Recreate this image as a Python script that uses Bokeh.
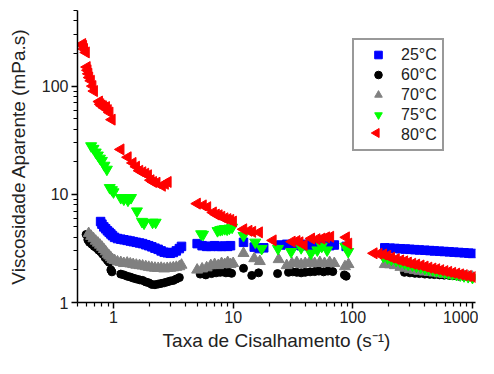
import math
from bokeh.plotting import figure
from bokeh.models import Range1d, FixedTicker, Legend, LegendItem, BasicTickFormatter
from bokeh.embed import file_html
from bokeh.resources import INLINE

# ---------------- data ----------------
labels = ["25°C", "60°C", "70°C", "75°C", "80°C"]

x25 = [0.78, 0.80, 0.83, 0.86, 0.89, 0.92, 0.95, 0.98, 1.02, 1.08, 1.15, 1.22, 1.30, 1.38, 1.46, 1.55,
       1.65, 1.75, 1.86, 1.97, 2.09, 2.22, 2.36, 2.50, 2.65, 2.81, 2.98, 3.16, 3.35, 3.55, 3.70,
       5.0, 5.5, 6.0, 6.5, 7.0, 7.5, 8.0, 8.5, 9.0, 9.5, 12.2, 15, 16.5, 18, 25, 28, 31, 34, 37, 40,
       44, 48, 53, 58, 64, 70, 88,
       185, 205, 225, 250, 275, 300, 330, 360, 400, 440, 480, 530, 580, 640, 700, 770, 850, 930, 1000]
y25 = [5.6, 5.3, 5.0, 4.8, 4.6, 4.45, 4.3, 4.15, 4.0, 3.9, 3.85, 3.8, 3.75, 3.7, 3.65, 3.6,
       3.55, 3.5, 3.42, 3.35, 3.27, 3.18, 3.1, 3.0, 2.92, 2.88, 2.85, 2.9, 3.0, 3.15, 3.3,
       3.5, 3.35, 3.3, 3.3, 3.35, 3.3, 3.3, 3.32, 3.3, 3.35, 3.6, 3.25, 3.15, 3.2, 3.4, 3.45, 3.4, 3.4, 3.35, 3.45,
       3.35, 3.4, 3.4, 3.35, 3.35, 3.4, 3.3,
       3.2, 3.18, 3.16, 3.14, 3.12, 3.1, 3.08, 3.06, 3.04, 3.02, 3.0, 2.98, 2.96, 2.94, 2.92, 2.9, 2.88, 2.86, 2.84]

x60 = [0.59, 0.61, 0.63, 0.66, 0.69, 0.72, 0.75, 0.78, 0.81, 0.85, 0.89, 0.92, 0.95, 0.97, 1.15, 1.22,
       1.30, 1.38, 1.46, 1.55, 1.65, 1.75, 1.86, 1.97, 2.09, 2.22, 2.36, 2.50, 2.65, 2.81, 2.98, 3.16, 3.35, 3.55,
       5.3, 5.9, 6.6, 7.2, 7.8, 8.2, 8.7, 9.2, 9.7, 12.2, 14.3, 16.3, 23.5, 29, 31.5, 34, 37, 40, 44, 48,
       52, 57, 62, 68, 85, 88,
       270, 300, 330, 360, 400, 440, 480, 530, 580, 640, 700, 770, 850, 930]
y60 = [4.25, 3.8, 3.6, 3.45, 3.3, 3.2, 3.05, 2.95, 2.8, 2.6, 2.45, 2.35, 2.0, 1.92, 1.83, 1.8,
       1.75, 1.72, 1.68, 1.65, 1.62, 1.6, 1.55, 1.52, 1.47, 1.46, 1.48, 1.5, 1.52, 1.55, 1.58, 1.6, 1.65, 1.7,
       1.83, 1.8, 1.85, 1.88, 1.9, 1.92, 1.88, 1.9, 1.86, 2.07, 1.78, 1.88, 1.85, 1.9, 1.92, 1.9, 1.88, 1.9, 1.92, 1.93,
       1.95, 1.92, 1.95, 1.93, 1.8, 1.75,
       1.9, 1.88, 1.86, 1.85, 1.83, 1.82, 1.81, 1.8, 1.79, 1.78, 1.77, 1.75, 1.74, 1.72]

x70 = [0.62, 0.65, 0.68, 0.71, 0.74, 0.77, 0.80, 0.83, 0.86, 0.89, 0.92, 0.95, 0.98, 1.02, 1.08, 1.15,
       1.22, 1.30, 1.38, 1.46, 1.55, 1.65, 1.75, 1.86, 1.97, 2.09, 2.22, 2.36, 2.50, 2.65, 2.81, 2.98,
       3.16, 3.35, 3.55, 3.70,
       5.0, 5.5, 6.0, 6.5, 7.0, 7.5, 8.0, 8.5, 9.0, 9.5, 10.0, 12.2, 15, 16.7, 24, 28, 31, 34, 37, 40,
       44, 48, 53, 58, 64, 70, 86, 92,
       185, 205, 225, 250, 275, 300, 330, 360, 400, 440, 480, 530, 580, 640, 700, 770, 850, 930, 1000]
y70 = [4.35, 4.1, 3.9, 3.7, 3.55, 3.4, 3.25, 3.1, 2.95, 2.8, 2.7, 2.6, 2.5, 2.45, 2.38, 2.35,
       2.3, 2.32, 2.28, 2.25, 2.22, 2.2, 2.18, 2.15, 2.12, 2.1, 2.08, 2.07, 2.08, 2.05, 2.07, 2.08,
       2.1, 2.12, 2.15, 2.22,
       2.0, 2.05, 2.1, 2.2, 2.25, 2.2, 2.3, 2.25, 2.35, 2.25, 2.3, 2.85, 2.55, 2.4, 2.5, 2.2, 2.3, 2.35, 2.25, 2.3,
       2.4, 2.3, 2.35, 2.3, 2.35, 2.3, 2.15, 2.25,
       2.25, 2.24, 2.2, 2.12, 2.08, 2.02, 1.98, 1.95, 1.92, 1.9, 1.88, 1.85, 1.83, 1.81, 1.79, 1.77, 1.75, 1.73, 1.72]

x75 = [0.65, 0.68, 0.71, 0.74, 0.77, 0.80, 0.84, 0.88, 0.93, 0.97, 1.0, 1.15, 1.22, 1.32, 1.40, 1.57,
       1.73, 1.80, 2.12, 2.25,
       5.4, 5.6, 7.4, 7.8, 8.1, 8.5, 8.9, 9.3, 9.8, 12.2, 15.3, 17.3, 23.7, 30.5, 37, 44.7, 50.5, 55, 61,
       86.5, 91.5,
       180, 195, 210, 230, 250, 270, 290, 315, 340, 370, 400, 430, 465, 500, 540, 585, 630, 680, 735,
       790, 850, 920, 1000]
y75 = [28, 26.5, 24.5, 23, 21.5, 20.5, 18.5, 17, 11.5, 11, 10.5, 9.3, 9.0, 8.8, 9.3, 7.0,
       5.6, 5.4, 5.5, 5.5,
       4.3, 4.25, 4.6, 4.7, 4.75, 4.8, 4.75, 4.85, 4.95, 4.15, 3.6, 3.15, 3.15, 2.95, 3.2, 2.85, 3.05, 3.3, 3.05,
       3.3, 2.95,
       2.65, 2.58, 2.5, 2.44, 2.37, 2.31, 2.26, 2.21, 2.16, 2.12, 2.07, 2.03, 2.0, 1.96, 1.93, 1.9, 1.87, 1.84, 1.81,
       1.79, 1.76, 1.73, 1.70]

x80 = [0.55, 0.56, 0.57, 0.59, 0.60, 0.61, 0.62, 0.63, 0.65, 0.67, 0.69, 0.76, 0.78, 0.80, 0.82, 0.84,
       0.87, 0.90, 0.93, 0.97, 1.15, 1.32, 1.45, 1.55, 1.65, 1.75, 1.85, 1.95, 2.05, 2.15, 2.3, 2.55, 2.7, 2.85,
       5.0, 5.6, 6.1, 6.8, 7.2, 7.6, 8.0, 8.5, 9.0, 9.5, 10.0, 12.2, 13.5, 14.5, 16.5, 21.5, 31, 34, 36, 39,
       45, 50, 55, 60, 65, 88, 92,
       150, 165, 180, 195, 210, 230, 250, 270, 290, 315, 340, 370, 400, 430, 465, 500, 540, 585, 630, 680,
       735, 790, 850, 920, 1000]
y80 = [245, 235, 220, 205, 150, 140, 130, 120, 112, 100, 90, 72, 68, 66, 65, 63,
       64, 60, 57, 49, 26, 22, 19.5, 18, 16.5, 16, 15.5, 15, 13.5, 13, 12.8, 12, 12.5, 13,
       8.2, 7.9, 7.6, 6.8, 6.5, 6.4, 6.2, 6.0, 5.9, 5.8, 5.6, 4.75, 4.6, 4.5, 4.45, 3.75, 3.65, 3.7, 3.6, 3.4,
       3.9, 3.85, 3.9, 4.0, 4.05, 4.0, 3.5,
       2.85, 2.82, 2.78, 2.7, 2.6, 2.52, 2.45, 2.4, 2.34, 2.28, 2.24, 2.2, 2.15, 2.1, 2.06, 2.03, 1.99, 1.95, 1.92, 1.88,
       1.85, 1.82, 1.79, 1.76, 1.72]

x_major = [1, 10, 100, 1000]
y_major = [1, 10, 100]

# ---------------- layout ----------------
W, H = 478, 358
BL, BR, BT, BB = 77, 3, 10, 56
X0, X1 = 0.5, 1060
Y0, Y1 = 1, 500
FONT = "Liberation Sans"
TXT = "#222222"

p = figure(width=W, height=H, x_axis_type="log", y_axis_type="log",
           x_range=Range1d(X0, X1), y_range=Range1d(Y0, Y1),
           output_backend="svg", toolbar_location=None,
           min_border_left=BL, min_border_right=BR, min_border_top=BT, min_border_bottom=BB)
p.outline_line_color = None
p.xgrid.visible = False
p.ygrid.visible = False

minor_x = [m * 10.0 ** e for e in range(-1, 4) for m in range(2, 10) if X0 <= m * 10.0 ** e <= X1]
minor_y = [m * 10.0 ** e for e in range(0, 3) for m in range(2, 10) if m * 10.0 ** e <= Y1]
p.xaxis.ticker = FixedTicker(ticks=x_major, minor_ticks=minor_x)
p.yaxis.ticker = FixedTicker(ticks=y_major, minor_ticks=minor_y)
for ax in (p.xaxis[0], p.yaxis[0]):
    ax.formatter = BasicTickFormatter(use_scientific=False)
    ax.axis_line_color = "black"
    ax.axis_line_width = 1.5
    ax.major_tick_line_color = "black"
    ax.major_tick_line_width = 1.5
    ax.minor_tick_line_color = "black"
    ax.minor_tick_line_width = 1.2
    ax.major_tick_out = 6
    ax.major_tick_in = 0
    ax.minor_tick_out = 4
    ax.minor_tick_in = 0
    ax.major_label_text_font = FONT
    ax.major_label_text_font_size = "16px"
    ax.major_label_text_color = TXT
    ax.axis_label_text_font = FONT
    ax.axis_label_text_font_size = "19px"
    ax.axis_label_text_font_style = "normal"
    ax.axis_label_text_color = TXT

p.xaxis.axis_label = "Taxa de Cisalhamento (s⁻¹)"
p.yaxis.axis_label = "Viscosidade Aparente (mPa.s)"
p.xaxis.major_label_standoff = 2
p.xaxis.axis_label_standoff = 4
p.yaxis.major_label_standoff = 3
p.yaxis.axis_label_standoff = 10

r25 = p.scatter(x25, y25, marker="square", size=8.5, fill_color="#0000FF", line_color="#0000FF")
r60 = p.scatter(x60, y60, marker="circle", size=8, fill_color="#000000", line_color="#000000")
r70 = p.scatter(x70, y70, marker="triangle", size=11, fill_color="#808080", line_color="#808080")
r75 = p.scatter(x75, y75, marker="inverted_triangle", size=11, fill_color="#00FF00", line_color="#00FF00")
r80 = p.scatter(x80, y80, marker="triangle", angle=math.pi / 2, size=11,
                fill_color="#FF0000", line_color="#FF0000")

# legend; its 80°C key is drawn as a rotated marker seen through the transparent box
# (legend keys ignore marker angle)
r80_key = p.scatter([], [], marker="triangle", fill_alpha=0, line_alpha=0)
FB = H - BB                      # frame bottom, canvas pixels
LEG_L, LEG_BOTTOM = 352, 147     # legend box left / bottom as drawn, canvas pixels
PAD, GW, ROWH = 5, 38, 19
legend = Legend(items=[LegendItem(label=l, renderers=[r]) for l, r in
                       zip(labels, [r25, r60, r70, r75, r80_key])],
                location=(LEG_L - BL, FB - LEG_BOTTOM - 4))
legend.label_text_font = FONT
legend.label_text_font_size = "16px"
legend.label_text_color = TXT
legend.border_line_color = "#333333"
legend.border_line_width = 2
legend.background_fill_alpha = 0.0
legend.padding = PAD
legend.spacing = 1
legend.margin = 0
legend.glyph_width = GW
legend.glyph_height = ROWH
legend.label_height = ROWH
legend.label_standoff = 4
p.add_layout(legend)

# screen position of the 5th legend key -> data coordinates on the log scales
key_sx = LEG_L + PAD + GW / 2
key_sy = LEG_BOTTOM - PAD - ROWH / 2
FR = W - BR
fx = (key_sx - BL) / (FR - BL)
fy = (FB - key_sy) / (FB - BT)
kx = 10 ** (math.log10(X0) + fx * (math.log10(X1) - math.log10(X0)))
ky = 10 ** (math.log10(Y0) + fy * (math.log10(Y1) - math.log10(Y0)))
p.scatter([kx], [ky], marker="triangle", angle=math.pi / 2, size=9,
          fill_color="#FF0000", line_color="#FF0000")

open("out.html", "w").write(file_html(p, INLINE))
